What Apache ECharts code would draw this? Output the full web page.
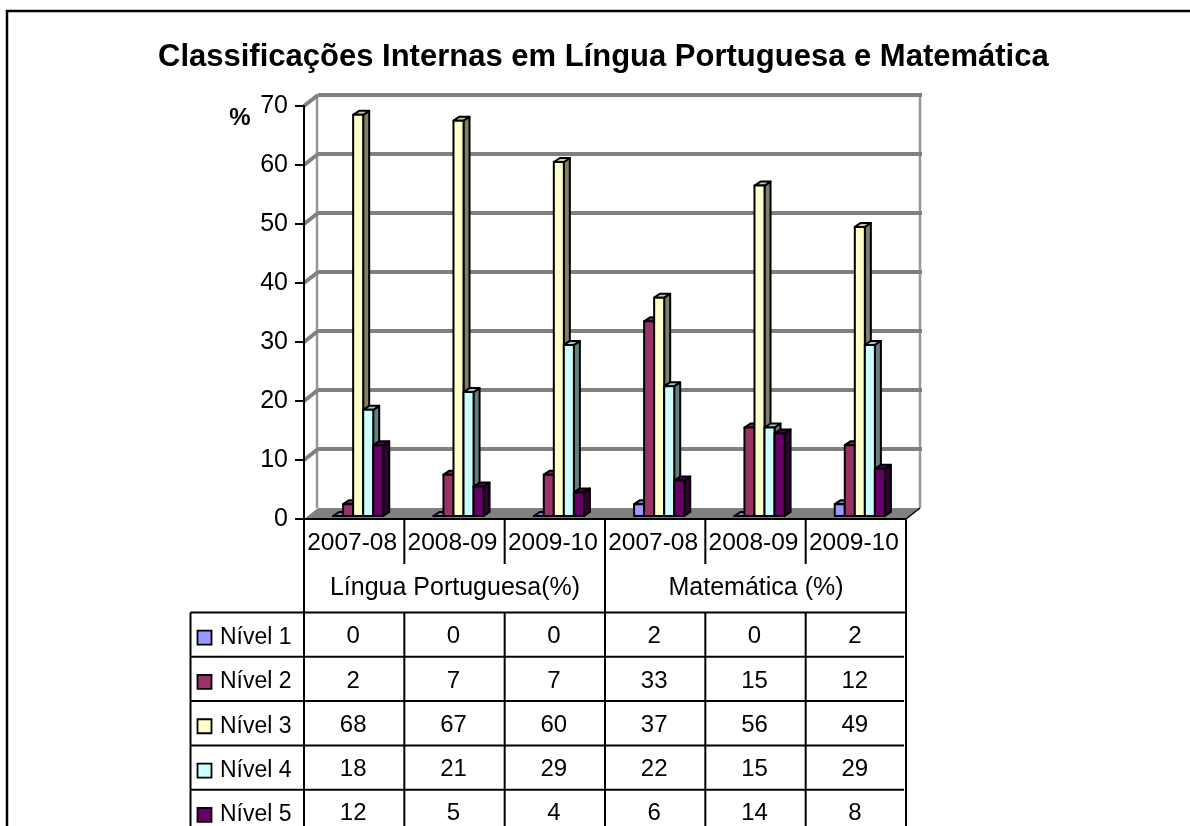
<!DOCTYPE html>
<html><head><meta charset="utf-8">
<style>html,body{margin:0;padding:0;background:#fff}#c{width:1190px;height:826px}</style>
<script src="https://cdn.jsdelivr.net/npm/echarts@6/dist/echarts.min.js"></script>
</head><body><div id="c"></div>
<script>
const titleText = 'Classificações Internas em Língua Portuguesa e Matemática';
const categories = ['2007-08','2008-09','2009-10','2007-08','2008-09','2009-10'];
const groups = ['Língua Portuguesa(%)','Matemática (%)'];
const yTicks = [0,10,20,30,40,50,60,70];
const seriesNames = ['Nível 1','Nível 2','Nível 3','Nível 4','Nível 5'];
const nivel1 = [0,0,0,2,0,2];
const nivel2 = [2,7,7,33,15,12];
const nivel3 = [68,67,60,37,56,49];
const nivel4 = [18,21,29,22,15,29];
const nivel5 = [12,5,4,6,14,8];
const allValues = [nivel1,nivel2,nivel3,nivel4,nivel5];
const fronts = ['#9999FF','#993366','#FFFFCC','#CCFFFF','#660066'];
const tops   = ['#7A7ACC','#7A2952','#CCCCA3','#A3CCCC','#520052'];
const sides  = ['#4D4D80','#4D1A33','#808066','#668080','#330033'];

const FONT = '"Liberation Sans", Arial, sans-serif';
const DX = 14, DY = -11;           // wall depth
const BDX = 6, BDY = -4, LIFT = 3; // bar depth

const chart = echarts.init(document.getElementById('c'), null, {renderer:'canvas'});

function frameItem(params, api){
  const v = api.value(0);
  const w = api.size([1,0])[0];
  const p = api.coord([0,v]);
  const left = p[0]-w/2, right = left+w*categories.length, y = p[1];
  const kids = [];
  const grey = '#808080';
  if (v === 0){
    const top = api.coord([0,yTicks[yTicks.length-1]])[1];
    kids.push({type:'polygon',shape:{points:[[left,y],[right,y],[right+DX,y+DY],[left+DX,y+DY]]},style:{fill:grey}});
    kids.push({type:'line',shape:{x1:left+DX-1,y1:y+DY,x2:left+DX-1,y2:top+DY},style:{stroke:'#969696',lineWidth:2.5}});
    kids.push({type:'line',shape:{x1:right+DX,y1:y+DY,x2:right+DX,y2:top+DY},style:{stroke:'#969696',lineWidth:2.5}});
    kids.push({type:'line',shape:{x1:right,y1:y,x2:right+DX,y2:y+DY},style:{stroke:'#000',lineWidth:1.5}});
  } else {
    kids.push({type:'line',shape:{x1:left+DX,y1:y+DY,x2:right+DX+2,y2:y+DY},style:{stroke:grey,lineWidth:4}});
    kids.push({type:'line',shape:{x1:left,y1:y,x2:left+DX,y2:y+DY},style:{stroke:grey,lineWidth:4}});
  }
  return {type:'group',children:kids};
}

function barItem(sIdx){
  return function(params, api){
    const c = api.value(0), v = api.value(1);
    const w = api.size([1,0])[0];
    const bw = w*0.1;
    const ctr = api.coord([c,0]);
    const topP = api.coord([c,v]);
    const x0 = ctr[0] + 4 + (sIdx-2.5)*bw;
    const x1 = x0+bw, yb = ctr[1]-LIFT, yt = topP[1]-LIFT;
    const ls = {stroke:'#000',lineWidth:2,lineJoin:'round'};
    return {type:'group',children:[
      {type:'polygon',shape:{points:[[x1,yb],[x1+BDX,yb+BDY],[x1+BDX,yt+BDY],[x1,yt]]},style:{fill:sides[sIdx],...ls}},
      {type:'polygon',shape:{points:[[x0,yt],[x1,yt],[x1+BDX,yt+BDY],[x0+BDX,yt+BDY]]},style:{fill:tops[sIdx],...ls}},
      {type:'rect',shape:{x:x0,y:yt,width:bw,height:yb-yt},style:{fill:fronts[sIdx],...ls}}
    ]};
  };
}

const series = [{
  type:'custom',name:'frame',silent:true,clip:false,z:1,
  renderItem:frameItem,
  encode:{y:0},
  data:yTicks.map(t=>[t])
}];
allValues.forEach((vals,i)=>{
  series.push({
    type:'custom',name:seriesNames[i],clip:false,z:3,
    renderItem:barItem(i),
    encode:{x:0,y:1},
    data:vals.map((v,c)=>[c,v])
  });
});

chart.setOption({
  animation:false,
  backgroundColor:'#fff',
  title:{text:titleText,left:158,top:42,padding:0,
    textStyle:{fontFamily:FONT,fontWeight:'bold',fontSize:31,color:'#000'}},
  grid:{left:304,right:284,top:106,bottom:307},
  xAxis:{type:'category',data:categories.map((_,i)=>i),z:5,
    axisLine:{lineStyle:{color:'#000',width:2}},
    axisTick:{show:false},
    axisLabel:{show:false},
    splitLine:{show:false}},
  yAxis:{type:'value',min:0,max:70,interval:10,z:5,
    axisLine:{show:true,lineStyle:{color:'#000',width:2}},
    axisTick:{show:true,length:9,lineStyle:{color:'#000',width:2}},
    axisLabel:{fontFamily:FONT,fontSize:25,color:'#000',margin:16,padding:[5,0,0,0]},
    splitLine:{show:false}},
  series
});

// Data table built from the arrays, columns aligned to the chart's x scale
const catX = categories.map((_,i)=>chart.convertToPixel({xAxisIndex:0},i));
const catW = catX[1]-catX[0];
const left = catX[0]-catW/2, right = catX[5]+catW/2;
const y0 = chart.convertToPixel({yAxisIndex:0},0);
const catBottom = y0+45, tableTop = y0+93.5, rowH = 44.3, tableLeft = 190.5, H = 826;
const g = [];
const line = (x1,y1,x2,y2,w=2)=>g.push({type:'line',z:10,shape:{x1,y1,x2,y2},style:{stroke:'#000',lineWidth:w}});
const text = (t,x,y,o={})=>g.push({type:'text',z:10,x,y,style:{text:t,fill:'#000',font:(o.bold?'bold ':'')+(o.size||24)+'px '+FONT,textAlign:o.align||'center',textVerticalAlign:'middle'}});

// outer border: left and top only, the picture is cut at right and bottom
g.push({type:'polyline',z:0,shape:{points:[[7,H+5],[7,11],[1195,11]]},style:{stroke:'#000',fill:null,lineWidth:2.5}});
text('%',240,118,{bold:true});
// verticals
for(let i=0;i<=categories.length;i++){
  const x = left+i*catW;
  if(i%3===0) line(x,y0,x,H);
  else { line(x,y0,x,catBottom); line(x,tableTop,x,H); }
}
line(tableLeft,tableTop,tableLeft,H);
// horizontals
for(let r=0;r<seriesNames.length;r++) line(tableLeft,tableTop+r*rowH,right-(r?2:0),tableTop+r*rowH);
// category and group labels
categories.forEach((c,i)=>text(c,catX[i]-2,y0+24.5,{size:24.5}));
groups.forEach((t,i)=>text(t,left+catW*(1.5+3*i)+0.5,y0+69.5,{size:25}));
// rows
seriesNames.forEach((n,r)=>{
  const cy = tableTop+(r+.5)*rowH;
  g.push({type:'rect',z:10,shape:{x:197.5,y:cy-4,width:14,height:14},style:{fill:fronts[r],stroke:'#000',lineWidth:1.8}});
  text(n,220,cy+3,{align:'left',size:23});
  allValues[r].forEach((v,i)=>text(String(v),catX[i]-1,cy+2));
});
chart.setOption({graphic:g});
</script></body></html>
